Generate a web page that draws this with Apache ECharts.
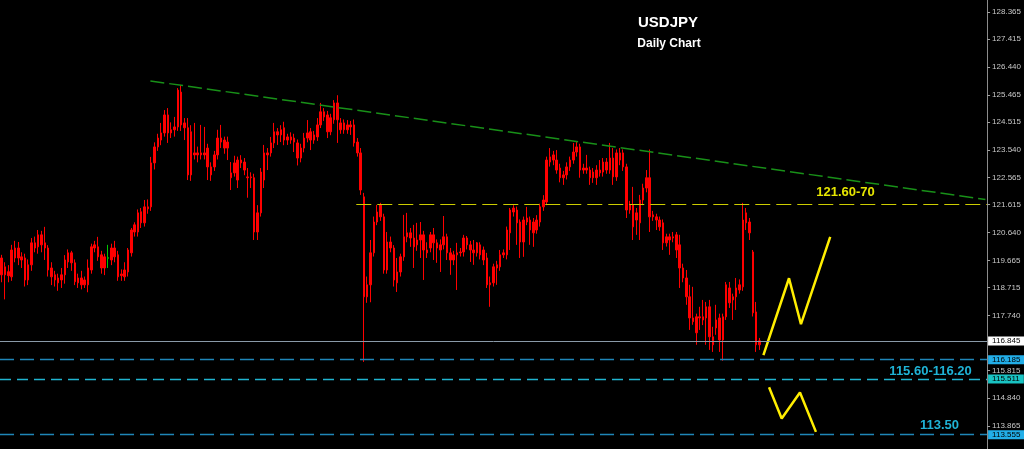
<!DOCTYPE html>
<html>
<head>
<meta charset="utf-8">
<title>USDJPY Daily Chart</title>
<script src="https://cdn.jsdelivr.net/npm/echarts@6/dist/echarts.min.js"></script>
<style>
  html, body { margin: 0; padding: 0; background: #000; }
  #chart { width: 1024px; height: 449px; }
</style>
</head>
<body>
<div id="chart"></div>
<script>
// Daily OHLC, USDJPY, from 2015-03-24
const open = [
  119.75,119.44,119.13,119.09,119.75,120.10,119.79,119.75,118.98,119.51,
  120.10,120.14,120.56,120.28,120.10,119.40,119.16,119.05,118.98,119.16,
  119.61,119.93,119.58,119.05,118.81,118.98,118.81,119.33,120.10,120.14,
  119.86,119.40,119.74,119.68,120.10,119.86,119.19,119.09,119.26,119.93,
  120.66,120.66,121.37,120.98,121.47,121.54,123.08,123.64,123.88,124.13,
  124.76,124.13,124.24,124.34,125.56,124.48,124.31,124.17,123.36,123.43,
  123.36,123.43,123.60,122.94,122.94,123.36,123.95,123.88,123.60,122.73,
  122.73,123.18,123.08,123.11,122.59,122.56,122.56,120.66,121.33,122.48,
  123.36,123.43,123.78,124.17,124.06,124.31,123.88,123.99,123.95,123.78,
  123.25,123.60,123.95,124.17,123.88,123.99,124.41,124.87,124.76,124.17,
  124.59,125.18,124.48,124.24,124.41,124.34,124.41,123.81,123.43,121.89,
  118.39,118.81,119.93,121.01,121.19,121.19,119.33,120.31,120.10,118.88,
  119.26,119.79,120.49,120.63,120.45,120.21,120.38,120.56,119.93,120.10,
  120.56,120.28,120.03,120.21,120.49,119.93,119.68,119.86,119.93,119.96,
  120.45,120.21,120.03,119.93,120.21,120.03,119.75,118.81,118.88,119.40,
  119.44,119.86,119.86,120.63,121.36,121.43,121.01,120.31,121.01,121.08,
  120.63,120.73,121.01,121.54,121.71,123.11,123.36,123.18,122.90,122.56,
  122.66,122.94,123.18,123.46,123.64,122.83,122.90,122.83,122.56,122.83,
  122.73,122.76,123.11,122.83,123.25,122.59,123.43,123.43,122.94,121.43,
  121.61,121.08,120.98,121.78,122.20,122.56,121.19,121.19,121.08,120.98,
  120.28,120.49,120.45,120.56,120.21,119.40,119.05,118.39,117.52,117.69,
  117.65,117.69,117.65,118.04,116.99,117.30,117.65,116.88,117.69,118.70,
  118.28,118.39,118.63,118.74,120.98,121.01,119.96,117.86,116.71
];
const close = [
  119.16,119.16,119.27,120.03,120.10,119.75,119.68,118.98,119.51,120.28,
  120.28,120.56,120.21,120.10,119.33,119.09,118.98,118.88,119.16,119.68,
  119.93,119.58,118.92,118.88,119.05,118.81,119.40,120.14,120.21,119.79,
  119.40,119.79,119.76,120.10,119.79,119.09,119.13,119.33,120.03,120.73,
  120.91,121.33,120.98,121.54,121.54,123.08,123.64,123.95,124.13,124.76,
  124.13,124.24,124.34,125.63,124.41,124.31,122.66,122.66,123.43,123.36,
  123.43,123.36,122.94,122.66,123.36,123.95,123.81,123.60,123.81,122.56,
  123.08,122.48,123.18,122.83,122.56,122.59,120.66,121.33,122.76,123.43,
  123.43,123.78,124.17,124.06,124.24,123.88,123.99,123.88,123.81,123.25,
  123.60,123.95,124.13,123.88,124.06,124.41,124.87,124.69,124.17,124.66,
  125.18,124.59,124.24,124.48,124.24,124.41,123.78,123.43,122.13,118.39,
  118.81,119.93,121.01,121.36,121.61,119.33,120.31,120.10,118.98,119.26,
  119.79,120.49,120.63,120.45,120.14,120.38,120.56,120.03,120.03,120.56,
  120.28,120.10,120.21,120.49,119.93,119.68,119.86,119.93,119.96,120.45,
  120.21,120.03,119.93,120.28,119.86,119.68,118.81,118.88,119.44,119.51,
  119.86,119.93,120.73,121.43,121.50,120.98,120.31,121.08,121.15,120.73,
  121.01,121.08,121.54,121.78,123.18,123.29,123.18,122.83,122.56,122.66,
  122.94,123.18,123.46,123.64,122.83,122.90,122.83,122.56,122.76,122.56,
  122.83,123.11,122.83,123.25,122.59,123.43,123.18,122.94,121.43,121.61,
  120.84,121.33,121.78,122.20,122.56,121.19,121.26,121.08,120.84,120.28,
  120.49,120.38,120.49,120.03,119.40,119.05,118.39,117.65,117.65,117.13,
  117.69,117.58,118.04,116.99,116.71,117.58,116.88,117.69,118.81,118.18,
  118.39,118.70,118.81,121.08,121.33,120.63,117.83,116.71,116.85
];
const low = [
  118.90,118.30,118.90,118.95,119.60,119.50,119.40,118.75,118.80,119.30,
  119.95,119.90,119.95,119.68,119.10,118.80,118.75,118.60,118.70,118.85,
  119.40,119.30,118.80,118.70,118.65,118.70,118.55,119.20,119.95,119.65,
  119.20,119.15,119.40,119.50,119.60,118.95,118.95,118.95,119.10,119.80,
  120.50,120.50,120.80,120.85,121.30,121.40,122.85,123.50,123.70,124.00,
  123.78,123.95,124.00,124.20,124.20,123.88,122.48,122.45,123.20,123.10,
  123.20,123.20,122.48,122.45,122.80,123.20,123.60,123.40,123.18,122.13,
  122.60,122.20,122.90,122.65,121.86,122.20,120.38,120.38,121.20,122.20,
  122.83,123.30,123.60,123.71,123.81,123.70,123.71,123.75,123.46,122.99,
  123.10,123.45,123.80,123.53,123.75,123.85,124.30,124.55,123.95,124.05,
  124.45,123.78,124.10,124.10,124.10,124.06,123.65,123.30,121.96,116.11,
  118.18,118.20,119.80,120.90,121.05,119.20,119.20,119.95,118.75,118.56,
  119.10,119.65,120.30,120.14,119.40,120.00,119.75,118.98,119.75,119.95,
  119.68,119.58,119.26,120.05,119.68,119.16,119.50,118.63,119.80,119.80,
  120.05,119.61,119.51,119.80,119.70,119.50,118.70,118.04,118.75,118.81,
  119.30,119.75,119.70,120.03,121.20,120.21,119.75,119.79,120.90,120.21,
  120.14,120.60,120.85,121.40,121.60,122.95,123.00,122.70,122.40,122.31,
  122.50,122.80,123.05,123.30,122.56,122.70,122.70,122.31,122.38,122.31,
  122.60,122.60,122.70,122.70,122.31,122.45,123.00,122.80,121.15,121.30,
  120.38,120.56,120.38,121.60,122.05,120.66,121.05,120.73,120.70,120.03,
  120.15,119.86,120.30,119.75,118.70,118.90,118.11,117.23,117.41,116.71,
  117.23,117.40,116.71,116.53,116.46,117.06,116.46,116.15,117.58,118.00,
  117.58,117.93,118.50,118.60,120.73,120.38,117.70,116.46,116.53
];
const high = [
  119.86,119.60,119.50,120.21,120.35,120.31,119.95,119.90,119.70,120.45,
  120.50,120.73,120.70,120.84,120.20,119.60,119.30,119.20,119.40,119.85,
  120.05,120.00,119.70,119.20,119.30,119.10,119.70,120.25,120.35,120.49,
  120.00,119.90,120.21,120.25,120.35,120.00,119.35,119.60,120.10,120.80,
  121.00,121.45,121.50,121.78,121.80,123.29,123.80,124.10,124.48,124.93,
  125.00,124.50,124.69,125.70,125.81,124.65,124.65,124.40,124.48,123.65,
  124.41,124.34,123.75,123.10,123.50,124.24,124.41,124.00,124.00,123.11,
  123.33,123.30,123.35,123.25,122.90,122.75,122.70,121.60,122.90,123.71,
  123.60,123.99,124.48,124.30,124.40,124.52,124.10,124.15,124.10,123.90,
  123.75,124.13,124.58,124.30,124.20,124.65,125.18,125.00,124.90,124.80,
  125.28,125.45,124.65,124.60,124.58,124.55,124.60,123.95,123.60,122.03,
  119.10,120.38,121.20,121.61,121.68,121.30,120.66,120.50,120.20,119.75,
  119.90,121.26,121.33,120.80,120.91,120.98,121.01,120.70,120.30,120.66,
  120.80,120.40,120.40,121.22,120.60,120.10,120.00,120.28,120.10,120.56,
  120.52,120.35,120.38,120.31,120.30,120.15,119.93,119.10,119.55,119.65,
  120.03,120.05,120.85,121.50,121.60,121.55,121.10,121.20,121.54,121.20,
  121.15,121.25,121.65,121.95,123.30,123.60,123.50,123.53,123.05,122.80,
  123.10,123.30,123.78,123.81,123.75,123.05,123.36,122.95,122.90,123.00,
  123.18,123.25,123.25,123.78,123.60,123.55,123.60,123.55,123.05,121.75,
  122.24,121.50,121.96,122.35,122.83,123.55,121.40,121.30,121.20,121.10,
  120.60,120.60,120.66,120.66,120.56,119.55,119.33,118.81,118.74,117.80,
  118.04,118.28,118.21,118.28,117.34,118.11,117.80,117.80,118.91,118.91,
  118.50,119.05,119.00,121.68,121.50,121.15,120.03,118.21,116.95
];
// bars drawn in the neutral (green) colour
const greenBars = [32];

// number of daily slots across the plot, including the empty space on the right
const slotCount = 297;
const firstDay = Date.UTC(2015, 2, 24);

// price scale labels on the right
const axisTicks = [128.365, 127.415, 126.440, 125.465, 124.515, 123.540, 122.565,
  121.615, 120.640, 119.665, 118.715, 117.740, 115.815, 114.840, 113.865];
const yMin = 113.06, yMax = 128.785;

// descending trendline through the highs: [bar index, price]
const trendLine = [[44.75, 125.95], [296, 121.80]];
// resistance zone
const resistance = 121.62;
const resistanceStart = 106.7;
// current bid and support levels
const bidPrice = 116.845;
const supportHigh = 116.185;
const supportLow = 115.511;
const target = 113.555;
// projected paths
const pathUp = [[229.2, 116.35], [236.9, 119.04], [240.5, 117.43], [249.3, 120.49]];
const pathDown = [[230.9, 115.22], [234.7, 114.13], [240.2, 115.04], [245.0, 113.66]];
// zone labels: [bar index, price, text, colour]
const zoneLabels = [
  [253.9, 122.03, '121.60-70', '#e6e600'],
  [279.5, 115.79, '115.60-116.20', '#1fb3d6'],
  [282.2, 113.88, '113.50', '#1fb3d6']
];

// trading days (weekdays) for the category axis
const categories = [];
for (let t = firstDay; categories.length < slotCount; t += 86400000) {
  const d = new Date(t);
  const wd = d.getUTCDay();
  if (wd !== 0 && wd !== 6) categories.push(d.toISOString().slice(0, 10));
}

const candles = open.map((o, i) => {
  const item = { value: [o, close[i], low[i], high[i]] };
  if (greenBars.includes(i)) {
    item.itemStyle = { color: '#00c800', color0: '#00c800', borderColor: '#00c800', borderColor0: '#00c800' };
  }
  return item;
});

const FONT = '"Liberation Sans", Arial, sans-serif';

function levelLine(value, color, dash, bg, width) {
  return {
    yAxis: value,
    lineStyle: { color: color, type: dash, width: width || 1 },
    label: {
      show: true, position: 'end', distance: 1,
      formatter: value.toFixed(3),
      backgroundColor: bg, color: '#000', fontSize: 8, fontFamily: FONT,
      padding: [1, 4, 0, 4], lineHeight: 8
    }
  };
}

const chart = echarts.init(document.getElementById('chart'), null, { renderer: 'canvas' });
chart.setOption({
  backgroundColor: '#000000',
  animation: false,
  textStyle: { fontFamily: FONT },
  graphic: [
    { type: 'text', x: 668, y: 22.5, style: { text: 'USDJPY', fill: '#fff', font: 'bold 15px ' + FONT, textAlign: 'center', textVerticalAlign: 'middle' } },
    { type: 'text', x: 669, y: 43.5, style: { text: 'Daily Chart', fill: '#fff', font: 'bold 12px ' + FONT, textAlign: 'center', textVerticalAlign: 'middle' } }
  ],
  grid: { left: 0, right: 35, top: 0, bottom: 0, containLabel: false },
  xAxis: [
    { type: 'category', data: categories, boundaryGap: true, show: false },
    { type: 'value', min: -0.5, max: slotCount - 0.5, show: false }
  ],
  yAxis: {
    type: 'value', position: 'right', min: yMin, max: yMax, scale: true,
    axisLine: { show: true, onZero: false, lineStyle: { color: '#8c8c8c', width: 1 } },
    axisTick: { show: true, length: 3, customValues: axisTicks, lineStyle: { color: '#a0a0a0' } },
    axisLabel: {
      show: true, customValues: axisTicks, margin: 5, color: '#c8c8c8',
      fontSize: 8, fontFamily: FONT, formatter: v => v.toFixed(3)
    },
    splitLine: { show: false }
  },
  series: [
    {
      type: 'candlestick',
      name: 'USDJPY',
      data: candles,
      barWidth: 2,
      itemStyle: { color: '#ff0000', color0: '#ff0000', borderColor: '#ff0000', borderColor0: '#ff0000', borderWidth: 1 }
    },
    {
      type: 'line', name: 'trend', xAxisIndex: 1, clip: false,
      data: trendLine, symbol: 'none',
      lineStyle: { color: '#189018', width: 1.5, type: [14, 5] },
      markLine: {
        silent: true, symbol: ['none', 'none'], animation: false,
        data: [
          [
            { coord: [resistanceStart, resistance], lineStyle: { color: '#cccc00', type: [15, 6], width: 1.2 }, label: { show: false } },
            { coord: [slotCount - 0.5, resistance] }
          ],
          levelLine(bidPrice, '#8a9aa8', 'solid', '#ffffff'),
          levelLine(supportHigh, '#1f86b8', [14, 6], '#22aee8', 1.3),
          levelLine(supportLow, '#20b4d0', [11, 6], '#19c3c3', 1.3),
          levelLine(target, '#1f86b8', [14, 6], '#22aee8', 1.3)
        ]
      },
      markPoint: {
        silent: true, symbol: 'circle', symbolSize: 0,
        data: zoneLabels.map(z => ({
          coord: [z[0], z[1]],
          label: { show: true, position: 'inside', formatter: z[2], color: z[3], fontSize: 13, fontWeight: 'bold', fontFamily: FONT }
        }))
      }
    },
    {
      type: 'line', name: 'path up', xAxisIndex: 1, data: pathUp, symbol: 'none',
      lineStyle: { color: '#ffee00', width: 2.5 }
    },
    {
      type: 'line', name: 'path down', xAxisIndex: 1, data: pathDown, symbol: 'none',
      lineStyle: { color: '#ffee00', width: 2.5 }
    }
  ]
});
</script>
</body>
</html>
